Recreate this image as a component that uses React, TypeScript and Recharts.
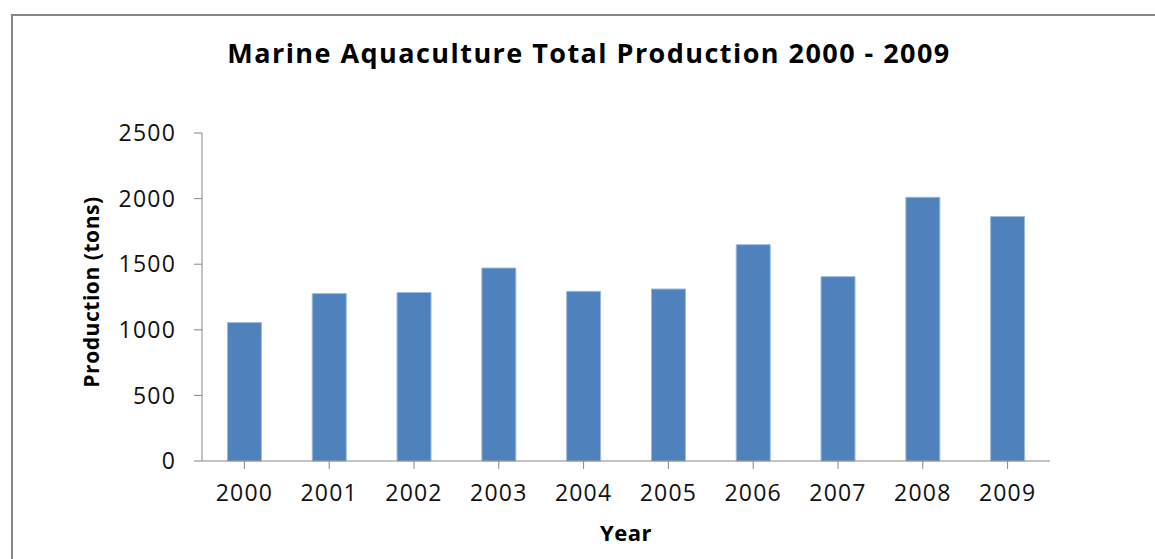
import React from 'react';
import { BarChart, Bar, XAxis, YAxis } from 'recharts';

const years = ['2000', '2001', '2002', '2003', '2004', '2005', '2006', '2007', '2008', '2009'];
const production = [1055, 1276, 1284, 1471, 1293, 1311, 1649, 1405, 2010, 1863];
const yTicks = [0, 500, 1000, 1500, 2000, 2500];

const data = years.map((year, i) => ({ year, production: production[i] }));

const FONT = '"Open Sans", Lato, sans-serif';
const AXIS = '#868686';

const App: React.FC = () => {
  return (
    <div style={{ position: 'absolute', left: 0, top: 0, width: 1155, height: 559, overflow: 'hidden', background: '#fff' }}>
      {/* outer chart frame, runs off the right and bottom edges */}
      <div style={{ position: 'absolute', left: 11, top: 14, width: 1200, height: 600, border: '2px solid #868686' }} />
      <div style={{ position: 'absolute', left: 0, top: 0 }}>
        <BarChart
          width={1155}
          height={559}
          data={data}
          margin={{ top: 133, right: 105, bottom: 68, left: 122 }}
          barCategoryGap="30%"
        >
          <text
            x={589}
            y={63}
            textAnchor="middle"
            fontFamily={FONT}
            fontWeight={700}
            fontSize={27}
            letterSpacing={1.45}
            fill="#000"
          >
            Marine Aquaculture Total Production 2000 - 2009
          </text>
          <XAxis
            dataKey="year"
            stroke={AXIS}
            tickSize={8}
            tickMargin={16}
            tick={{ fill: '#111', fontSize: 23, fontFamily: FONT, letterSpacing: 1.2 }}
            label={{
              content: ({ viewBox }: any) => (
                <text
                  x={viewBox.x + viewBox.width / 2}
                  y={541}
                  textAnchor="middle"
                  fontFamily={FONT}
                  fontWeight={700}
                  fontSize={22}
                  letterSpacing={0.5}
                  fill="#000"
                >
                  Year
                </text>
              ),
            }}
          />
          <YAxis
            width={80}
            domain={[0, 2500]}
            ticks={yTicks}
            interval={0}
            stroke={AXIS}
            tickSize={8}
            tickMargin={18}
            tick={{ fill: '#111', fontSize: 23, fontFamily: FONT, letterSpacing: 1.2 }}
            label={{
              content: ({ viewBox }: any) => {
                const cy = viewBox.y + viewBox.height / 2 - 5;
                return (
                  <text
                    x={99}
                    y={cy}
                    transform={`rotate(-90, 99, ${cy})`}
                    textAnchor="middle"
                    fontFamily={FONT}
                    fontWeight={700}
                    fontSize={21}
                    letterSpacing={0.55}
                    fill="#000"
                  >
                    Production (tons)
                  </text>
                );
              },
            }}
          />
          <Bar dataKey="production" fill="#4F81BD" stroke="#9DBBE0" strokeWidth={1} isAnimationActive={false} />
        </BarChart>
      </div>
    </div>
  );
};

export default App;
